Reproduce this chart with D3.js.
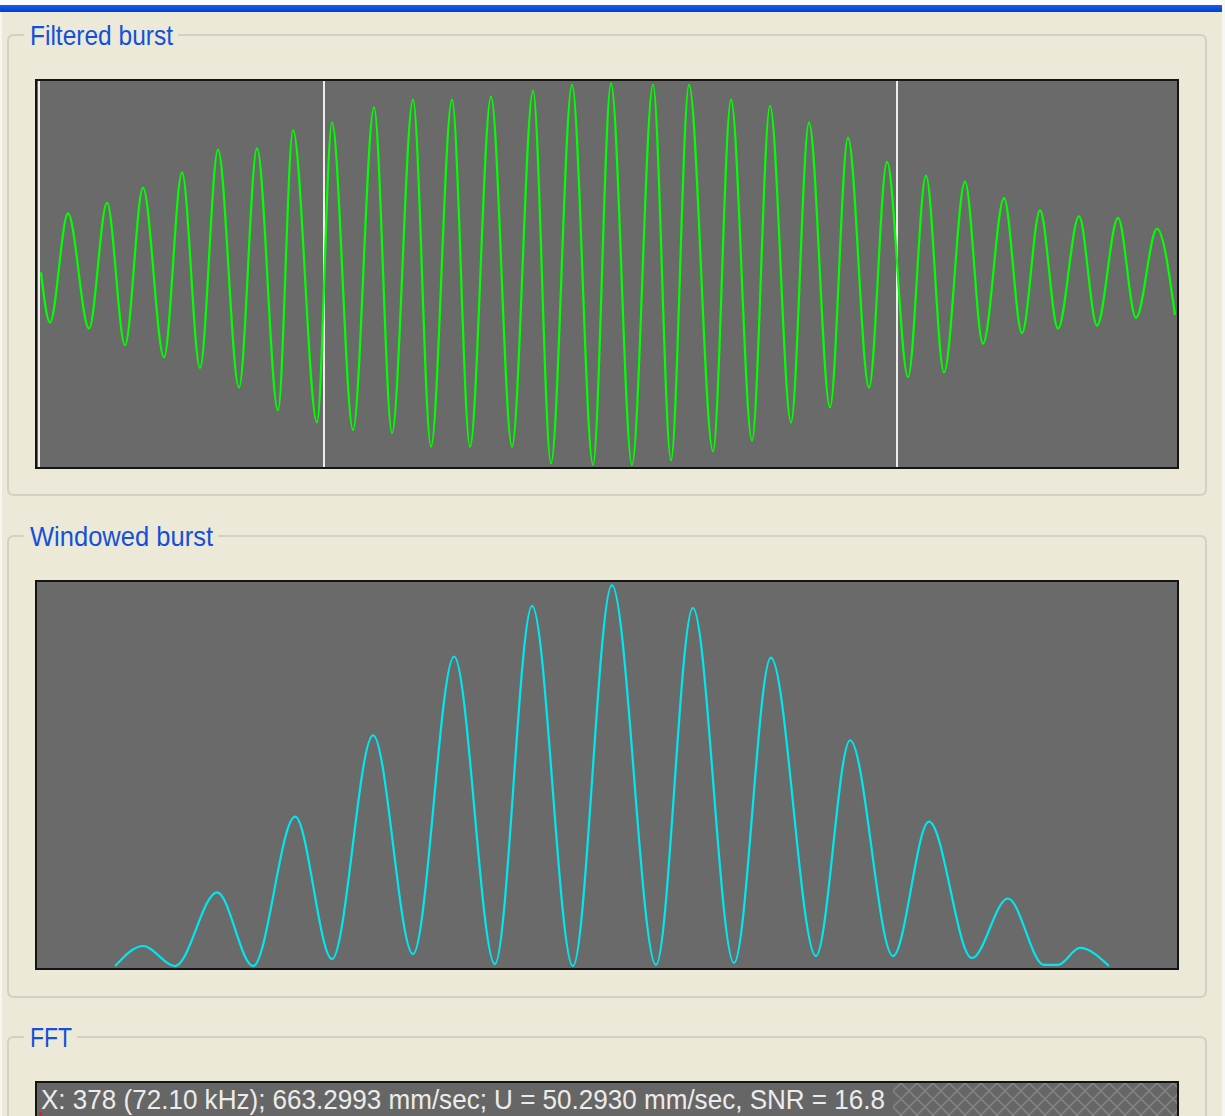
<!DOCTYPE html>
<html>
<head>
<meta charset="utf-8">
<script src="https://cdn.jsdelivr.net/npm/d3@7/dist/d3.min.js"></script>
<style>
  html, body { margin: 0; padding: 0; background: #ece9d8; overflow: hidden; }
  svg { display: block; }
</style>
</head>
<body>
<svg id="chart" width="1225" height="1116"></svg>
<script>
// Panel titles
const panelTitles = ["Filtered burst", "Windowed burst", "FFT"];

// Filtered burst: sample index and amplitude (ADC counts) of each turning point
const filteredIdx = [1, 4, 10, 17, 23, 29, 35, 42, 48, 54, 60, 67, 73, 80, 85, 93, 98, 105, 112, 118,
  125, 131, 138, 144, 151, 158, 165, 171, 178, 185, 191, 198, 205, 211, 217, 225, 231, 238, 244, 251,
  257, 264, 270, 277, 283, 290, 296, 302, 309, 315, 322, 328, 334, 340, 347, 353, 360, 366, 373, 379];
const filteredVal = [1, -32, 40, -36, 47, -47, 57, -55, 67, -62, 82, -75, 83, -90, 95, -98, 100, -103, 110, -105,
  115, -114, 115, -114, 117, -114, 121, -125, 125, -126, 126, -126, 125, -123, 125, -117, 115, -110, 111, -98,
  100, -88, 90, -75, 74, -68, 65, -65, 61, -46, 50, -39, 42, -36, 38, -34, 37, -29, 30, -27];

// Burst window boundaries (sample index)
const markerIdx = [0, 95, 286];

// Windowed burst: sample index and level (% of full scale) of each turning point
const windowedIdx = [25.7, 35, 45.7, 59.7, 71.7, 85.7, 98, 111.7, 125, 138.7, 152.3, 164.7, 178.3, 191.3,
  206, 218.3, 232, 244.3, 259.3, 270.7, 285, 297, 311.3, 323.3, 335.3, 340, 347.3, 357];
const windowedVal = [0.5, 5.7, 0.5, 19.6, 0.5, 39.2, 2.3, 60.3, 3.6, 80.7, 1.0, 93.8, 0.5, 99.2,
  0.8, 93.3, 1.3, 80.4, 3.1, 59.0, 3.1, 37.9, 2.6, 18.0, 0.8, 0.8, 5.2, 0.5];

// FFT readout
const statusText = "X: 378 (72.10 kHz); 663.2993 mm/sec; U = 50.2930 mm/sec, SNR = 16.8";

const svg = d3.select("#chart");
const W = 1225, H = 1116;

// ---- window chrome ----
svg.append("rect").attr("x", 0).attr("y", 0).attr("width", W).attr("height", H).attr("fill", "#ece9d8");
svg.append("rect").attr("x", 0).attr("y", 0).attr("width", W).attr("height", 5).attr("fill", "#fbfbfb");
const defs = svg.append("defs");
const grad = defs.append("linearGradient").attr("id", "capBar")
  .attr("x1", 0).attr("y1", 0).attr("x2", 0).attr("y2", 1);
grad.append("stop").attr("offset", 0).attr("stop-color", "#1a5ee8");
grad.append("stop").attr("offset", 1).attr("stop-color", "#0040d0");
svg.append("rect").attr("x", 0).attr("y", 5).attr("width", 1222).attr("height", 7).attr("fill", "url(#capBar)");
svg.append("rect").attr("x", 0).attr("y", 12).attr("width", 2).attr("height", H).attr("fill", "#f7f6f0");
svg.append("rect").attr("x", 1222).attr("y", 0).attr("width", 3).attr("height", H).attr("fill", "#f7f6f0");

// ---- group boxes ----
const groups = [
  { title: panelTitles[0], y0: 35, y1: 495, tw: 143 },
  { title: panelTitles[1], y0: 536, y1: 997, tw: 183 },
  { title: panelTitles[2], y0: 1037, y1: 1160, tw: 42 }
];
const gx0 = 8, gx1 = 1206, rr = 6, titleX = 30;

groups.forEach(g => {
  const gapL = titleX - 6, gapR = titleX + g.tw + 5;
  const p = d3.path();
  p.moveTo(gapR, g.y0);
  p.lineTo(gx1 - rr, g.y0);
  p.quadraticCurveTo(gx1, g.y0, gx1, g.y0 + rr);
  p.lineTo(gx1, g.y1 - rr);
  p.quadraticCurveTo(gx1, g.y1, gx1 - rr, g.y1);
  p.lineTo(gx0 + rr, g.y1);
  p.quadraticCurveTo(gx0, g.y1, gx0, g.y1 - rr);
  p.lineTo(gx0, g.y0 + rr);
  p.quadraticCurveTo(gx0, g.y0, gx0 + rr, g.y0);
  p.lineTo(gapL, g.y0);
  svg.append("path").attr("d", p.toString()).attr("fill", "none")
    .attr("stroke", "#d3d1c2").attr("stroke-width", 2);
  svg.append("text").attr("x", titleX).attr("y", g.y0 + 10)
    .attr("font-family", "Liberation Sans, Arial, sans-serif")
    .attr("font-size", 28).attr("fill", "#1450d8")
    .attr("textLength", g.tw).attr("lengthAdjust", "spacingAndGlyphs")
    .text(g.title);
});

// ---- plot frames ----
const plotX0 = 36, plotX1 = 1178;
function frame(y0, y1) {
  svg.append("rect").attr("x", plotX0).attr("y", y0)
    .attr("width", plotX1 - plotX0).attr("height", y1 - y0)
    .attr("fill", "#6a6a6a").attr("stroke", "#141414").attr("stroke-width", 2);
}

// shared sample-index scale
const x = d3.scaleLinear().domain([0, 380]).range([38, 1178]);

// ---- Filtered burst ----
const fTop = 80, fBot = 468;
frame(fTop, fBot);
const yF = d3.scaleLinear().domain([-128, 128]).range([fBot, fTop]);

defs.append("clipPath").attr("id", "fClip")
  .append("rect").attr("x", plotX0 + 1).attr("y", fTop + 1)
  .attr("width", plotX1 - plotX0 - 2).attr("height", fBot - fTop - 2);

svg.append("g").selectAll("line").data(markerIdx).join("line")
  .attr("x1", d => x(d) + 1).attr("x2", d => x(d) + 1)
  .attr("y1", fTop + 1).attr("y2", fBot - 1)
  .attr("stroke", "#ececec").attr("stroke-width", 2);

const filtered = filteredIdx.map((d, i) => [d, filteredVal[i]]);
svg.append("path").datum(filtered)
  .attr("clip-path", "url(#fClip)")
  .attr("fill", "none").attr("stroke", "#00ff00").attr("stroke-width", 2.2)
  .attr("d", d3.line().x(d => x(d[0])).y(d => yF(d[1])).curve(d3.curveMonotoneX));

// ---- Windowed burst ----
const wTop = 581, wBot = 969;
frame(wTop, wBot);
const yW = d3.scaleLinear().domain([0, 100]).range([wBot - 1, wTop + 1]);
const windowed = windowedIdx.map((d, i) => [d, windowedVal[i]]);
svg.append("path").datum(windowed)
  .attr("fill", "none").attr("stroke", "#00e8ef").attr("stroke-width", 2.2)
  .attr("d", d3.line().x(d => x(d[0])).y(d => yW(d[1])).curve(d3.curveMonotoneX));

// ---- FFT readout bar ----
const pat = defs.append("pattern").attr("id", "hatch")
  .attr("patternUnits", "userSpaceOnUse").attr("width", 16).attr("height", 16)
  .attr("x", 893).attr("y", 1083);
pat.append("rect").attr("width", 16).attr("height", 16).attr("fill", "#666666");
pat.append("path").attr("d", "M0,8 L8,0 L16,8 L8,16 Z").attr("fill", "none")
  .attr("stroke", "#838383").attr("stroke-width", 1.6);

svg.append("rect").attr("x", plotX0).attr("y", 1082)
  .attr("width", plotX1 - plotX0).attr("height", 40)
  .attr("fill", "#666666").attr("stroke", "#141414").attr("stroke-width", 2);
svg.append("rect").attr("x", 893).attr("y", 1083)
  .attr("width", plotX1 - 1 - 893).attr("height", 40).attr("fill", "url(#hatch)");
svg.append("text").attr("x", 41).attr("y", 1109)
  .attr("font-family", "Liberation Sans, Arial, sans-serif")
  .attr("font-size", 28).attr("fill", "#ececec")
  .attr("textLength", 844).attr("lengthAdjust", "spacingAndGlyphs")
  .text(statusText);
svg.append("rect").attr("x", 39).attr("y", 1112).attr("width", 3).attr("height", 4).attr("fill", "#e02020");
</script>
</body>
</html>
